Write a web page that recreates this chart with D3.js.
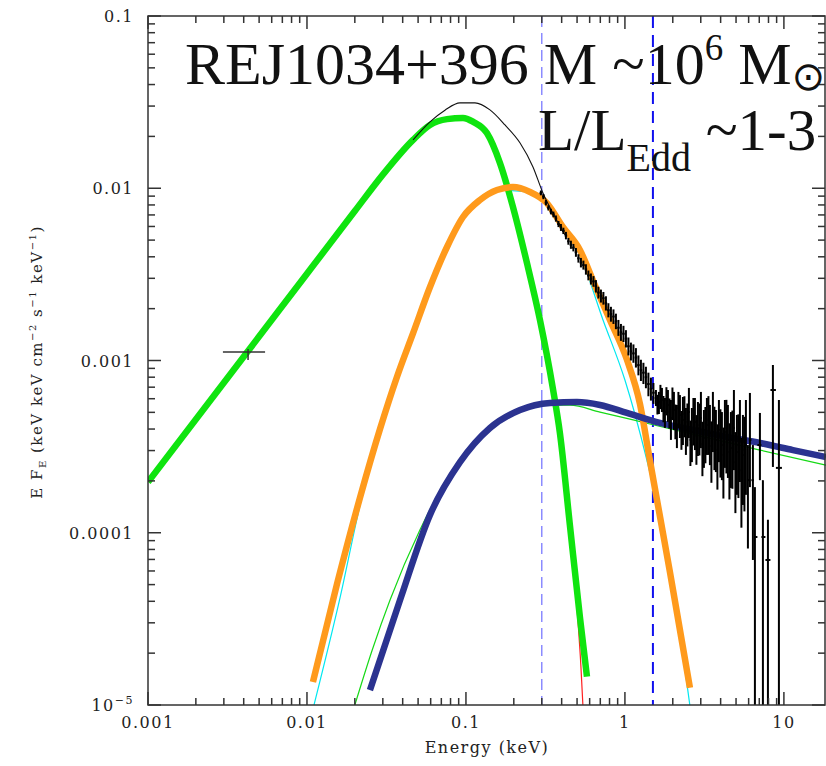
<!DOCTYPE html>
<html>
<head>
<meta charset="utf-8">
<script src="https://cdn.jsdelivr.net/npm/d3@7"></script>
<style>
  body { margin: 0; background: #fff; }
  svg { display: block; }
</style>
</head>
<body>
<svg id="chart" width="826" height="766"></svg>
<script>
// model components, each point is [energy (keV), E F_E]
const discBB = [[0.001,1.97e-4],[0.00426,1.135e-3],[0.01,3.19e-3],[0.02,7.37e-3],[0.03,0.0120],
  [0.0465,0.0191],[0.0594,0.0233],[0.076,0.0252],[0.0958,0.0256],[0.111,0.0243],
  [0.1355,0.0209],[0.1637,0.0140],[0.1977,0.00778],[0.242,0.00368],[0.292,0.00172],[0.352,6.9e-4],
  [0.390,3.79e-4],[0.451,1.1e-4],[0.521,3.24e-5],[0.577,1.46e-5]];

const softExcess = [[0.0109,1.36e-5],[0.01545,5.04e-5],[0.0216,1.61e-4],[0.0288,4.0e-4],[0.0368,8.02e-4],
  [0.0465,1.44e-3],[0.0594,2.67e-3],[0.076,4.56e-3],[0.0958,6.81e-3],[0.1225,8.55e-3],[0.1567,9.77e-3],
  [0.1977,0.01016],[0.253,9.51e-3],[0.323,8.20e-3],[0.407,5.96e-3],[0.521,4.38e-3],[0.647,2.74e-3],
  [0.805,1.72e-3],[1.03,1.01e-3],[1.243,5.6e-4],[1.435,2.64e-4],[1.66,1.25e-4],[1.919,5.92e-5],
  [2.218,2.73e-5],[2.564,1.26e-5]];

const softExcessAlt = [[0.01107,1e-5],[0.01615,4.2e-5],[0.0216,1.45e-4],[0.0368,7.8e-4],[0.0594,2.65e-3],
  [0.0958,6.8e-3],[0.1567,9.75e-3],[0.253,9.5e-3],[0.407,5.9e-3],[0.52,4.1e-3],[0.728,1.72e-3],
  [1.0,7.7e-4],[1.374,2.64e-4],[1.786,9.08e-5],[2.56,1.0e-5]];

const hardTail = [[0.0249,1.22e-5],[0.0385,4.07e-5],[0.0594,1.27e-4],[0.0917,2.57e-4],[0.1416,4.06e-4],
  [0.219,5.16e-4],[0.338,5.67e-4],[0.499,5.74e-4],[0.697,5.52e-4],[1.03,4.96e-4],[1.66,4.34e-4],
  [2.68,3.95e-4],[4.38,3.60e-4],[7.07,3.32e-4],[11.4,3.02e-4],[18.4,2.75e-4]];

const powerLaw = [[0.02,1e-5],[0.0257,2.08e-5],[0.0333,4.07e-5],[0.0514,1.04e-4],[0.0793,2.19e-4],
  [0.1225,3.60e-4],[0.189,4.83e-4],[0.292,5.5e-4],[0.451,5.5e-4],[0.697,5.02e-4],[1.435,4.28e-4],
  [2.96,3.65e-4],[7.07,3.02e-4],[18.4,2.47e-4]];

const discTail = [[0.465,9.08e-5],[0.506,3.11e-5],[0.528,1.71e-5],[0.544,1e-5]];

const totalModel = [[0.0465,0.0191],[0.0594,0.0243],[0.0738,0.0284],[0.0917,0.0313],[0.114,0.0313],
  [0.1416,0.0285],[0.176,0.0233],[0.219,0.0183],[0.264,0.0133],[0.305,9.38e-3],[0.352,7.18e-3],[0.42,5.35e-3]];

// X-ray spectrum: [energy, flux, flux low, flux high]
const spectrum = [
  [0.296,9.38e-3,9.1e-3,9.7e-3],[0.3185,8.25e-3,7.95e-3,8.55e-3],[0.3424,7.32e-3,7.05e-3,7.6e-3],
  [0.3681,6.68e-3,6.4e-3,6.95e-3],[0.3958,5.92e-3,5.65e-3,6.2e-3],[0.4255,5.31e-3,5.05e-3,5.58e-3],
  [0.4574,4.70e-3,4.45e-3,4.96e-3],[0.4918,4.25e-3,4.0e-3,4.5e-3],[0.5287,3.70e-3,3.47e-3,3.94e-3],
  [0.5684,3.38e-3,3.15e-3,3.62e-3],[0.6111,2.98e-3,2.76e-3,3.2e-3],[0.6570,2.70e-3,2.48e-3,2.93e-3],
  [0.7064,2.37e-3,2.17e-3,2.58e-3],[0.7594,2.15e-3,1.95e-3,2.36e-3],[0.8165,1.86e-3,1.68e-3,2.05e-3],
  [0.8778,1.69e-3,1.52e-3,1.87e-3],[0.9437,1.46e-3,1.3e-3,1.63e-3],[1.0146,1.34e-3,1.19e-3,1.5e-3],
  [1.0907,1.13e-3,1.0e-3,1.27e-3],[1.1726,1.04e-3,9.1e-4,1.18e-3],[1.2607,8.8e-4,7.6e-4,1.01e-3],
  [1.3554,8.0e-4,6.9e-4,9.2e-4],[1.4572,6.85e-4,5.85e-4,7.95e-4],
  [0.307,8.95e-3,8.64e-3,9.26e-3],[0.330,7.70e-3,7.43e-3,7.97e-3],[0.355,7.05e-3,6.78e-3,7.32e-3],
  [0.382,6.20e-3,5.95e-3,6.46e-3],[0.410,5.66e-3,5.42e-3,5.90e-3],[0.441,4.92e-3,4.70e-3,5.15e-3],
  [0.474,4.52e-3,4.30e-3,4.75e-3],[0.510,3.92e-3,3.70e-3,4.14e-3],[0.548,3.58e-3,3.37e-3,3.80e-3],
  [0.589,3.12e-3,2.92e-3,3.33e-3],[0.634,2.88e-3,2.68e-3,3.09e-3],[0.681,2.48e-3,2.29e-3,2.68e-3],
  [0.732,2.30e-3,2.11e-3,2.50e-3],[0.787,1.96e-3,1.78e-3,2.15e-3],[0.847,1.80e-3,1.63e-3,1.98e-3],
  [0.910,1.55e-3,1.39e-3,1.72e-3],[0.979,1.43e-3,1.28e-3,1.59e-3],[1.052,1.21e-3,1.07e-3,1.36e-3],
  [1.131,1.10e-3,9.7e-4,1.24e-3],[1.216,9.4e-4,8.2e-4,1.07e-3],[1.307,8.5e-4,7.3e-4,9.7e-4],
  [1.405,7.3e-4,6.2e-4,8.5e-4],[1.511,6.5e-4,5.6e-4,7.4e-4],
  [1.567,6.06e-4,5.44e-4,6.74e-4],[1.636,5.74e-4,4.89e-4,6.57e-4],[1.709,5.90e-4,5.02e-4,6.93e-4],
  [1.785,5.02e-4,4.06e-4,6.06e-4],[1.864,5.52e-4,4.40e-4,6.74e-4],[1.947,4.64e-4,3.46e-4,5.90e-4],
  [2.033,5.16e-4,3.95e-4,6.57e-4],[2.123,4.22e-4,3.10e-4,5.52e-4],[2.218,4.83e-4,3.55e-4,6.30e-4],
  [2.316,4.52e-4,3.23e-4,6.14e-4],[2.419,3.95e-4,2.83e-4,5.30e-4],[2.526,5.02e-4,3.55e-4,6.93e-4],
  [2.638,3.85e-4,2.57e-4,5.30e-4],[2.756,4.40e-4,3.02e-4,6.06e-4],[2.878,4.06e-4,2.79e-4,5.74e-4],
  [3.006,4.64e-4,3.10e-4,6.57e-4],[3.139,3.55e-4,2.38e-4,5.16e-4],[3.279,4.22e-4,2.83e-4,6.06e-4],
  [3.424,3.79e-4,2.47e-4,5.52e-4],[3.576,4.52e-4,2.94e-4,6.57e-4],[3.735,3.46e-4,2.25e-4,5.16e-4],
  [3.901,3.95e-4,2.57e-4,5.90e-4],[4.074,3.23e-4,2.02e-4,5.02e-4],[4.255,3.85e-4,2.38e-4,5.90e-4],
  [4.444,3.46e-4,2.08e-4,5.52e-4],[4.642,3.10e-4,1.82e-4,5.02e-4],[4.848,4.06e-4,2.31e-4,6.74e-4],
  [5.063,2.94e-4,1.66e-4,4.83e-4],[5.288,3.55e-4,1.97e-4,5.90e-4],[5.523,2.83e-4,1.45e-4,4.83e-4],
  [5.768,3.23e-4,1.66e-4,5.90e-4],[6.112,3.46e-4,1.84e-4,6.48e-4],[6.383,2.02e-4,6.95e-5,3.23e-4],
  [6.571,9.45e-5,1e-6,1.84e-4],[7.065,3.23e-4,2.02e-4,4.96e-4],[7.378,9.45e-5,1e-6,2.02e-4],
  [7.935,6.95e-5,1e-6,1.19e-4],[8.528,6.74e-4,2.41e-4,9.42e-4],[9.303,2.38e-4,1e-6,5.90e-4],
  [1.601,5.59e-4,4.86e-4,6.32e-4],[1.672,6.22e-4,5.22e-4,7.22e-4],[1.747,5.30e-4,4.38e-4,6.22e-4],
  [1.824,5.90e-4,4.80e-4,7.00e-4],[1.905,5.02e-4,4.02e-4,6.02e-4],[1.990,5.74e-4,4.51e-4,6.97e-4],
  [2.077,4.52e-4,3.49e-4,5.55e-4],[2.170,5.30e-4,4.03e-4,6.57e-4],[2.267,4.06e-4,3.03e-4,5.09e-4],
  [2.367,4.89e-4,3.58e-4,6.20e-4],[2.472,4.40e-4,3.17e-4,5.63e-4],[2.581,3.46e-4,2.44e-4,4.48e-4],
  [2.696,4.64e-4,3.21e-4,6.06e-4],[2.816,3.65e-4,2.48e-4,4.82e-4],[2.941,4.22e-4,2.81e-4,5.63e-4],
  [3.072,3.27e-4,2.13e-4,4.41e-4],[3.208,3.95e-4,2.53e-4,5.37e-4],[3.351,4.52e-4,2.83e-4,6.21e-4],
  [3.499,3.19e-4,1.95e-4,4.43e-4],[3.655,3.85e-4,2.31e-4,5.39e-4],[3.817,3.02e-4,1.78e-4,4.26e-4],
  [3.987,3.65e-4,2.09e-4,5.21e-4],[4.163,2.83e-4,1.58e-4,4.08e-4],[4.349,4.06e-4,2.21e-4,5.91e-4],
  [4.542,2.94e-4,1.56e-4,4.32e-4],[4.744,3.46e-4,1.80e-4,5.12e-4],[4.954,2.57e-4,1.30e-4,3.84e-4],
  [5.174,3.23e-4,1.59e-4,4.87e-4],[5.404,2.31e-4,1.07e-4,3.55e-4],[5.645,3.02e-4,1.33e-4,4.71e-4],
  [5.938,2.02e-4,8.1e-5,3.23e-4]
];

// optical/UV point: energy, flux, energy range, flux range
const uvPoint = { e: 0.00426, f: 1.12e-3, eLo: 0.00296, eHi: 0.00545, fLo: 1.007e-3, fHi: 1.166e-3 };

const bandEdges = [0.3, 1.5];
const xTickValues = [0.001, 0.01, 0.1, 1, 10];
const xTickLabels = ["0.001", "0.01", "0.1", "1", "10"];
const yTickValues = [0.1, 0.01, 0.001, 0.0001, 0.00001];
const yTickLabels = ["0.1", "0.01", "0.001", "0.0001", "10-5"];

const plot = { left: 148, right: 826, top: 16, bottom: 705 };

const x = d3.scaleLog().domain([0.001, 18.4]).range([plot.left, plot.right]);
const y = d3.scaleLog().domain([1e-5, 0.1]).range([plot.bottom, plot.top]);

const svg = d3.select("#chart");

svg.append("defs").append("clipPath").attr("id", "clip")
  .append("rect")
  .attr("x", plot.left).attr("y", plot.top)
  .attr("width", plot.right - plot.left).attr("height", plot.bottom - plot.top);

const area = svg.append("g").attr("clip-path", "url(#clip)");

const line = d3.line()
  .x(d => x(d[0]))
  .y(d => y(d[1]))
  .curve(d3.curveMonotoneX);

// dashed band edges
area.selectAll("line.band")
  .data(bandEdges)
  .join("line")
  .attr("class", "band")
  .attr("x1", d => x(d)).attr("x2", d => x(d))
  .attr("y1", plot.top).attr("y2", plot.bottom)
  .attr("stroke", (d, i) => i === 0 ? "#6f6fff" : "#1010ee")
  .attr("stroke-width", (d, i) => i === 0 ? 1.2 : 2)
  .attr("stroke-dasharray", (d, i) => i === 0 ? "11,6" : "12,7");

// thin component lines drawn under the thick ones
const thin = [
  { data: softExcessAlt, color: "#00e8f0" },
  { data: powerLaw, color: "#16d916" },
  { data: discTail, color: "#ff2020" }
];

const thick = [
  { data: discBB, color: "#0fe40f" },
  { data: softExcess, color: "#ff9a1c" },
  { data: hardTail, color: "#2b3390" }
];

area.selectAll("path.thin")
  .data(thin)
  .join("path")
  .attr("class", "thin")
  .attr("fill", "none")
  .attr("stroke", d => d.color)
  .attr("stroke-width", 1.2)
  .attr("d", d => line(d.data));

area.selectAll("path.thick")
  .data(thick)
  .join("path")
  .attr("class", "thick")
  .attr("fill", "none")
  .attr("stroke", d => d.color)
  .attr("stroke-width", 6.5)
  .attr("d", d => line(d.data));

area.append("path")
  .attr("fill", "none")
  .attr("stroke", "#111")
  .attr("stroke-width", 1.1)
  .attr("d", line(totalModel));

// spectrum error bars, bins run between neighbouring energies
const spec = d3.sort(spectrum, d => d[0]);
const yFloor = v => Math.max(v, 1e-5 * 0.9);
const binEdge = (i, side) => {
  const e = spec[i][0];
  const n = spec[i + side];
  const other = n ? n[0] : e * e / spec[i - side][0];
  return Math.sqrt(e * other);
};

const bars = area.append("g").attr("stroke", "#000");
bars.selectAll("line.v")
  .data(spec)
  .join("line")
  .attr("class", "v")
  .attr("x1", d => x(d[0])).attr("x2", d => x(d[0]))
  .attr("y1", d => y(d[3])).attr("y2", d => y(yFloor(d[2])))
  .attr("stroke-width", 2);
bars.selectAll("line.h")
  .data(spec)
  .join("line")
  .attr("class", "h")
  .attr("x1", (d, i) => x(binEdge(i, -1))).attr("x2", (d, i) => x(binEdge(i, 1)))
  .attr("y1", d => y(d[1])).attr("y2", d => y(d[1]))
  .attr("stroke-width", 2);

// UV point
const uv = area.append("g").attr("stroke", "#333").attr("stroke-width", 1.5);
uv.append("line")
  .attr("x1", x(uvPoint.eLo)).attr("x2", x(uvPoint.eHi))
  .attr("y1", y(uvPoint.f)).attr("y2", y(uvPoint.f));
uv.append("line")
  .attr("x1", x(uvPoint.e)).attr("x2", x(uvPoint.e))
  .attr("y1", y(uvPoint.fHi)).attr("y2", y(uvPoint.fLo));

// frame and ticks
const axisColor = "#333";
svg.append("rect")
  .attr("x", plot.left).attr("y", plot.top)
  .attr("width", plot.right - 1 - plot.left).attr("height", plot.bottom - plot.top)
  .attr("fill", "none").attr("stroke", axisColor).attr("stroke-width", 1.5);

const logTicks = (lo, hi) => {
  const out = [];
  for (let p = Math.floor(Math.log10(lo)); p <= Math.ceil(Math.log10(hi)); p++) {
    for (let k = 1; k <= 9; k++) {
      const v = k * Math.pow(10, p);
      if (v >= lo * 0.999 && v <= hi * 1.001) out.push({ v, major: k === 1 });
    }
  }
  return out;
};

const xt = logTicks(0.001, 18.4);
const yt = logTicks(1e-5, 0.1);
const ticks = svg.append("g").attr("stroke", axisColor).attr("stroke-width", 1.5);
const len = d => d.major ? 13 : 7;

ticks.selectAll("line.xb").data(xt).join("line").attr("class", "xb")
  .attr("x1", d => x(d.v)).attr("x2", d => x(d.v))
  .attr("y1", plot.bottom).attr("y2", d => plot.bottom - len(d));
ticks.selectAll("line.xt").data(xt).join("line").attr("class", "xt")
  .attr("x1", d => x(d.v)).attr("x2", d => x(d.v))
  .attr("y1", plot.top).attr("y2", d => plot.top + len(d));
ticks.selectAll("line.yl").data(yt).join("line").attr("class", "yl")
  .attr("y1", d => y(d.v)).attr("y2", d => y(d.v))
  .attr("x1", plot.left).attr("x2", d => plot.left + len(d));
ticks.selectAll("line.yr").data(yt).join("line").attr("class", "yr")
  .attr("y1", d => y(d.v)).attr("y2", d => y(d.v))
  .attr("x1", plot.right - 1).attr("x2", d => plot.right - 1 - len(d));

const tickFont = "'DejaVu Serif', serif";

svg.selectAll("text.xl").data(xTickValues).join("text")
  .attr("class", "xl")
  .attr("x", d => x(d)).attr("y", 728)
  .attr("text-anchor", "middle")
  .attr("font-family", tickFont).attr("font-size", 16)
  .attr("letter-spacing", 1.5).attr("fill", "#222")
  .text((d, i) => xTickLabels[i]);

svg.selectAll("text.ylab").data(yTickValues).join("text")
  .attr("class", "ylab")
  .attr("x", 134).attr("y", d => y(d) + 6)
  .attr("text-anchor", "end")
  .attr("font-family", tickFont).attr("font-size", 16)
  .attr("letter-spacing", 1.5).attr("fill", "#222")
  .each(function(d, i) {
    const lab = yTickLabels[i];
    const t = d3.select(this);
    if (lab.startsWith("10-")) {
      t.append("tspan").text("10");
      t.append("tspan").attr("dy", -7).attr("font-size", 11).text("\u2212" + lab.slice(3));
    } else {
      t.text(lab);
    }
  });

// axis titles
svg.append("text")
  .attr("x", 487).attr("y", 753)
  .attr("text-anchor", "middle")
  .attr("font-family", tickFont).attr("font-size", 16)
  .attr("letter-spacing", 1.5).attr("fill", "#222")
  .text("Energy (keV)");

const yl = svg.append("text")
  .attr("transform", "translate(42,362) rotate(-90)")
  .attr("text-anchor", "middle")
  .attr("font-family", tickFont).attr("font-size", 15)
  .attr("letter-spacing", 1.5).attr("fill", "#222");
yl.append("tspan").text("E F");
yl.append("tspan").attr("dy", 4).attr("font-size", 10).text("E");
yl.append("tspan").attr("dy", -4).text(" (keV keV cm");
yl.append("tspan").attr("dy", -6).attr("font-size", 10).text("\u22122");
yl.append("tspan").attr("dy", 6).text(" s");
yl.append("tspan").attr("dy", -6).attr("font-size", 10).text("\u22121");
yl.append("tspan").attr("dy", 6).text(" keV");
yl.append("tspan").attr("dy", -6).attr("font-size", 10).text("\u22121");
yl.append("tspan").attr("dy", 6).text(")");

// title annotation
const titleFont = "'Liberation Serif', 'Times New Roman', serif";
const t1 = svg.append("text")
  .attr("x", 185).attr("y", 84)
  .attr("font-family", titleFont).attr("font-size", 60).attr("fill", "#111");
t1.append("tspan").text("REJ1034+396 M ~10");
t1.append("tspan").attr("dy", -24).attr("font-size", 37).text("6");
t1.append("tspan").attr("dy", 24).text(" M");
t1.append("tspan").attr("dy", 6).attr("font-size", 40).attr("font-family", "'DejaVu Sans', sans-serif").text("\u2299");

const t2 = svg.append("text")
  .attr("x", 538).attr("y", 150)
  .attr("font-family", titleFont).attr("font-size", 59).attr("fill", "#111");
t2.append("tspan").text("L/L");
t2.append("tspan").attr("dy", 21).attr("font-size", 40).text("Edd");
t2.append("tspan").attr("dy", -21).text(" ~1-3");
</script>
</body>
</html>
